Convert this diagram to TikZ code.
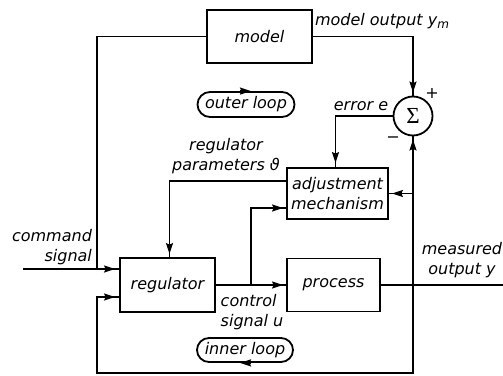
\documentclass[tikz,border=0pt]{standalone}
\usepackage{fontspec}
\setmainfont{DejaVu Sans}
\newfontfamily\sumfont{Liberation Serif}
\usetikzlibrary{arrows.meta,calc,shapes.misc,decorations.markings}

\begin{document}
\begin{tikzpicture}[x=1pt,y=-1pt,
  font=\fontsize{16}{20}\selectfont\itshape,
  line width=1.8pt,
  >={Stealth[length=11pt,width=7pt,inset=1.5pt]},
  block/.style={draw, inner sep=0pt, align=center},
  loopbox/.style={draw, rounded rectangle, inner sep=0pt, minimum width=97pt, minimum height=25pt},
  flow/.style={postaction={decorate},
    decoration={markings, mark=at position #1 with {\arrow{>}}}},
  lbl/.style={inner sep=0pt, align=center}]

\useasboundingbox (0,0) rectangle (503,375);

% blocks
\node[block, minimum width=105pt, minimum height=53pt] (model) at (259.5,36.5) {model};
\node[block, minimum width=95pt, minimum height=54pt] (reg) at (167.5,285) {regulator};
\node[block, minimum width=93pt, minimum height=53pt] (proc) at (333.5,285) {process};
\node[block, minimum width=101pt, minimum height=51pt] (adj) at (337.5,193.5) {adjustment\\mechanism};
\node[draw, circle, minimum size=39pt, inner sep=0pt, font=\sumfont\fontsize{23}{23}\selectfont] (sum) at (413,116) {Σ};

% loop indicators
\node[loopbox] (outer) at (246,104.5) {outer loop};
\node[loopbox, minimum width=96pt, minimum height=24pt] (inner) at (245,350) {inner loop};
\draw[->] ([xshift=-6pt]outer.north) -- ([xshift=5pt]outer.north);
\draw[->] ([xshift=6pt]inner.south) -- ([xshift=-5pt]inner.south);

% auxiliary points
\coordinate (cmd) at (23,269);
\coordinate (rin1) at (reg.west |- cmd);
\coordinate (rin2) at ($(reg.west)+(0,12)$);
\coordinate (split) at (97,269);
\coordinate (botl) at (97,373);
\coordinate (yout) at ($(proc.east)+(123,0)$);
\coordinate (yj) at (sum.south |- proc.east);
\coordinate (uj) at ($(reg.east)+(35,0)$);
\coordinate (ain) at ($(adj.west)+(0,14.5)$);
\coordinate (aout) at ($(adj.west)+(0,-12.5)$);
\coordinate (ar) at (adj.east -| sum.south);

% connectors
\draw[flow=-3pt] (model.east) -| (sum.north);
\draw[flow=-3pt] (yj) -- (sum.south);
\draw (proc.east) -- (yout);
\draw[flow=-4pt] (yj) |- (botl) |- (rin2);
\draw[flow=-4pt] (cmd) -- (rin1);
\draw (model.west) -| (split);
\draw[flow=-3pt] (reg.east) -- (proc.west);
\draw[flow=-3pt] (uj) |- (ain);
\draw[flow=-3pt] (aout) -| ([xshift=2pt]reg.north);
\draw[flow=-4pt] (sum.west) -| ([xshift=-2pt]adj.north);
\draw[flow=-3pt] (ar) -- (adj.east);

% labels
\node[lbl] (lym) at (382,21) {model output y\raisebox{-0.4ex}{\fontsize{12}{12}\selectfont m}};
\node[lbl, font=\fontsize{16}{16}\selectfont] (plus) at (432,93) {+};
\node[lbl, font=\fontsize{16}{16}\selectfont] (minus) at (393,140) {−};
\node[lbl] (lerr) at (361,106) {error e};
\node[lbl] (lpar) at (226,156) {regulator\\parameters ϑ};
\node[lbl, align=right] (lcmd) at (52,247) {command\\signal};
\node[lbl, align=left] (lu) at (252,312) {control\\signal u};
\node[lbl] (ly) at (462,260) {measured\\output y};

\end{tikzpicture}
\end{document}
